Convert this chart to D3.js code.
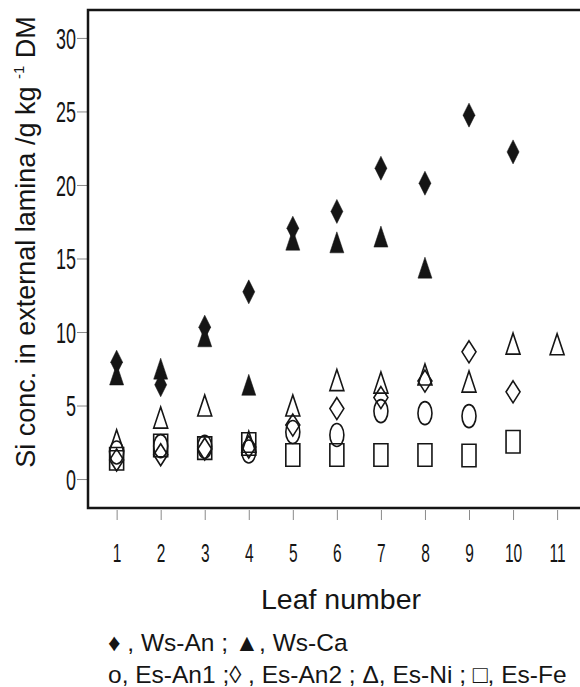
<!DOCTYPE html>
<html>
<head>
<meta charset="utf-8">
<script src="https://cdn.jsdelivr.net/npm/d3@7"></script>
<style>
  body { margin: 0; background: #fff; }
  svg { display: block; }
</style>
</head>
<body>
<svg width="580" height="687"></svg>
<script>
// leaf numbers on the x axis
var leaves = [1, 2, 3, 4, 5, 6, 7, 8, 9, 10, 11];
var yTicks = [0, 5, 10, 15, 20, 25, 30];

// Si concentration, g/kg DM, one value per leaf starting at leaf 1
var wsAn  = [7.95, 6.41, 10.33, 12.73, 17.06, 18.2, 21.14, 20.12, 24.75, 22.25];
var wsCa  = [6.87, 7.27, 9.47, 6.17, 16.04, 15.86, 16.25, 14.14];
var esAn1 = [1.8, 2.24, 2.2, 1.87, 3.2, 2.99, 4.62, 4.48, 4.28];
var esAn2 = [1.3, 1.65, 2.04, 2.18, 3.67, 4.79, 5.54, 6.66, 8.65, 5.93];
var esNi  = [2.4, 3.94, 4.76, 2.3, 4.76, 6.49, 6.32, 6.87, 6.39, 8.97, 8.93];
var esFe  = [1.38, 2.28, 2.1, 2.38, 1.63, 1.63, 1.63, 1.63, 1.6, 2.54];

var series = [
    { name: "Es-Fe",  values: esFe,  shape: "square",   filled: false },
    { name: "Es-An1", values: esAn1, shape: "circle",   filled: false },
    { name: "Es-An2", values: esAn2, shape: "diamond",  filled: false },
    { name: "Es-Ni",  values: esNi,  shape: "triangle", filled: false },
    { name: "Ws-Ca",  values: wsCa,  shape: "triangle", filled: true },
    { name: "Ws-An",  values: wsAn,  shape: "diamond",  filled: true }
];

var svg = d3.select("svg");
var ink = "#151515";
var sans = "'Liberation Sans', Arial, Helvetica, sans-serif";

var x = d3.scaleLinear().domain([0.35, 11.52]).range([88, 580]);
var y = d3.scaleLinear().domain([-1.97, 31.9]).range([508, 10]);

// marker outlines, a bit taller than wide like the printed figure
function shapePath(shape, filled) {
    var w = 14, h = 22;
    if (shape === "diamond") {
        if (filled) { w = 12; h = 24; }
        return "M0," + (-h / 2) + "L" + (w / 2) + ",0L0," + (h / 2) + "L" + (-w / 2) + ",0Z";
    }
    if (shape === "triangle") {
        h = 21;
        return "M0," + (-2 * h / 3) + "L" + (w / 2) + "," + (h / 3) + "L" + (-w / 2) + "," + (h / 3) + "Z";
    }
    if (shape === "square") {
        h = 22.5;
        return "M" + (-w / 2) + "," + (-h / 2) + "h" + w + "v" + h + "h" + (-w) + "Z";
    }
    // circle drawn as an ellipse
    h = 23;
    return "M" + (-w / 2) + ",0A" + (w / 2) + "," + (h / 2) + " 0 1,0 " + (w / 2) + ",0A" +
        (w / 2) + "," + (h / 2) + " 0 1,0 " + (-w / 2) + ",0Z";
}

// y axis, condensed tick labels
var yAxis = svg.append("g")
    .attr("transform", "translate(87,0)")
    .call(d3.axisLeft(y).tickValues(yTicks).tickSize(10));
yAxis.select(".domain").remove();
yAxis.selectAll(".tick line").attr("stroke", "#8a8a8a");
yAxis.selectAll(".tick text")
    .attr("x", 0)
    .attr("dy", "0.36em")
    .attr("transform", "translate(-11,0) scale(0.62,1)")
    .attr("fill", ink)
    .style("font-family", sans)
    .style("font-size", "29px");

// x axis
var xAxis = svg.append("g")
    .attr("transform", "translate(0,510)")
    .call(d3.axisBottom(x).tickValues(leaves).tickSize(10).tickFormat(d3.format("d")));
xAxis.select(".domain").remove();
xAxis.selectAll(".tick line").attr("stroke", "#8a8a8a");
xAxis.selectAll(".tick text")
    .attr("y", 52)
    .attr("dy", 0)
    .attr("transform", "scale(0.62,1)")
    .attr("fill", ink)
    .style("font-family", sans)
    .style("font-size", "25px");

// frame (right side runs off the page)
svg.append("path")
    .attr("d", "M590,10H88V508H590")
    .attr("fill", "none")
    .attr("stroke", ink)
    .attr("stroke-width", 2.5);

// points
series.forEach(function (s) {
    var pts = s.values.map(function (v, i) { return { leaf: leaves[i], value: v }; })
        .filter(function (d) { return d.value != null; });
    svg.append("g")
        .attr("class", "series")
        .selectAll("path")
        .data(pts)
        .enter().append("path")
        .attr("transform", function (d) { return "translate(" + x(d.leaf) + "," + y(d.value) + ")"; })
        .attr("d", shapePath(s.shape, s.filled))
        .attr("fill", s.filled ? ink : "none")
        .attr("stroke", ink)
        .attr("stroke-width", s.filled ? 0.5 : 1.6);
});

// axis titles
var yTitle = svg.append("text")
    .attr("transform", "translate(35,242) rotate(-90)")
    .attr("text-anchor", "middle")
    .attr("fill", ink)
    .style("font-family", sans)
    .style("font-size", "27px");
yTitle.append("tspan").text("Si conc. in external lamina /g kg ");
yTitle.append("tspan").attr("dy", -11).style("font-size", "15px").text("-1");
yTitle.append("tspan").attr("dy", 11).text("  DM");

svg.append("text")
    .attr("x", 341)
    .attr("y", 609)
    .attr("text-anchor", "middle")
    .attr("fill", ink)
    .style("font-family", sans)
    .style("font-size", "28.5px")
    .text("Leaf number");

// legend text below the chart
var legendLines = [
    "\u2666 , Ws-An ; \u25B2, Ws-Ca",
    "o, Es-An1 ;\u25CA , Es-An2 ; \u0394, Es-Ni ; \u25A1, Es-Fe"
];
svg.selectAll(".legend")
    .data(legendLines)
    .enter().append("text")
    .attr("class", "legend")
    .attr("x", 108)
    .attr("y", function (d, i) { return 651 + i * 32; })
    .attr("fill", ink)
    .style("font-family", sans)
    .style("font-size", "24.5px")
    .text(function (d) { return d; });
</script>
</body>
</html>
